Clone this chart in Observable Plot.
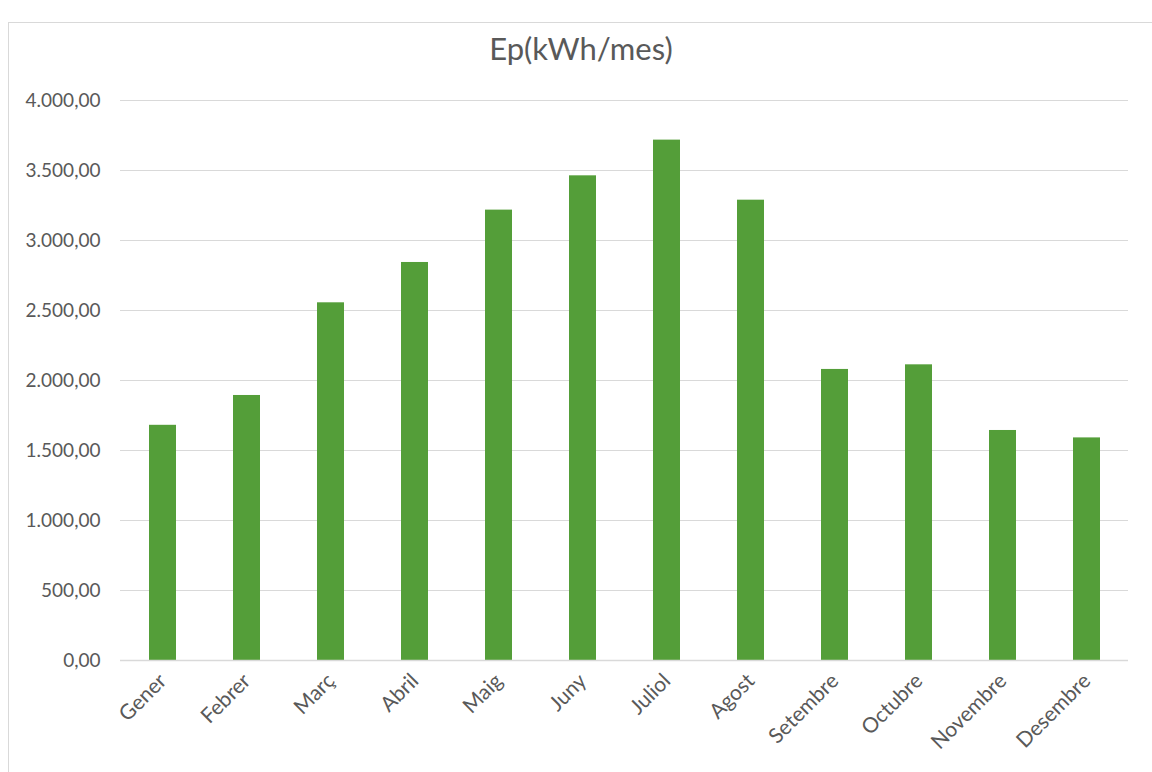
<!DOCTYPE html>
<html>
<head>
<meta charset="utf-8">
<script src="https://cdn.jsdelivr.net/npm/d3@7"></script>
<script src="https://cdn.jsdelivr.net/npm/@observablehq/plot@0.6"></script>
<style>
  html, body { margin: 0; padding: 0; background: #fff; overflow: hidden; }
  #wrap { position: relative; width: 1152px; height: 772px; overflow: hidden; }
  #frame { position: absolute; left: 8px; top: 22px; width: 1200px; height: 800px; border: 1px solid #d9d9d9; box-sizing: border-box; }
  #title { position: absolute; left: 0; width: 1162px; top: 29px; text-align: center; font-family: Lato, sans-serif; font-size: 31px; color: #595959; }
  #chart { position: absolute; left: 0; top: 0; }
</style>
</head>
<body>
<div id="wrap">
  <div id="frame"></div>
  <div id="chart"></div>
  <div id="title">Ep(kWh/mes)</div>
</div>
<script>
const months = ["Gener","Febrer","Març","Abril","Maig","Juny","Juliol","Agost","Setembre","Octubre","Novembre","Desembre"];
const energy = [1680, 1893, 2555, 2843, 3217, 3462, 3717, 3288, 2079, 2112, 1643, 1590];
const yTicks = [0, 500, 1000, 1500, 2000, 2500, 3000, 3500, 4000];

const data = months.map((m, i) => ({month: m, value: energy[i]}));
const locale = d3.formatLocale({decimal: ",", thousands: ".", grouping: [3], currency: ["", "€"]});
const fmt = locale.format(",.2f");

const chart = Plot.plot({
  width: 1152,
  height: 772,
  marginLeft: 120,
  marginRight: 24,
  marginTop: 100,
  marginBottom: 112,
  style: {fontFamily: "Lato, sans-serif", fontSize: "19px", color: "#595959", background: "transparent", overflow: "visible"},
  x: {domain: months, paddingInner: 0.68, paddingOuter: 0.34, label: null},
  y: {domain: [0, 4000], label: null},
  marks: [
    Plot.ruleY(yTicks.filter(d => d > 0), {stroke: "#d9d9d9", strokeWidth: 1}),
    Plot.barY(data, {x: "month", y: "value", fill: "#549E39"}),
    Plot.ruleY([0], {stroke: "#d9d9d9", strokeWidth: 1.5}),
    Plot.axisY({ticks: yTicks, tickFormat: fmt, tickSize: 0, tickPadding: 20, label: null, fill: "#595959", fontSize: 19}),
    Plot.axisX({tickSize: 0, tickRotate: -45, tickPadding: 17, label: null, fill: "#595959", fontSize: 21})
  ]
});
document.getElementById("chart").appendChild(chart);
</script>
</body>
</html>
